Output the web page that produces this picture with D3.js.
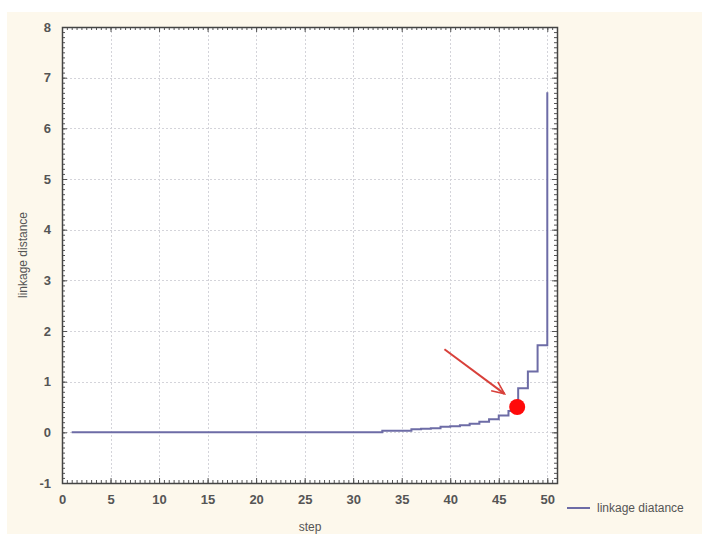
<!DOCTYPE html>
<html>
<head>
<meta charset="utf-8">
<script src="https://cdn.jsdelivr.net/npm/d3@7"></script>
<style>
    html, body { margin: 0; padding: 0; background: #ffffff; }
    svg { display: block; font-family: "Liberation Sans", Arial, sans-serif; }
</style>
</head>
<body>
<svg id="chart" width="702" height="534"></svg>
<script>

    /*=============== DATA ============*/

    var steps = d3.range(1, 51);

    var linkageDistance = [
        0, 0, 0, 0, 0, 0, 0, 0, 0, 0,
        0, 0, 0, 0, 0, 0, 0, 0, 0, 0,
        0, 0, 0, 0, 0, 0, 0, 0, 0, 0,
        0, 0, 0.03, 0.03, 0.03, 0.06, 0.07, 0.08, 0.11, 0.12,
        0.14, 0.17, 0.21, 0.26, 0.33, 0.42, 0.87, 1.2, 1.72, 6.71
    ];

    var xTicks = [0, 5, 10, 15, 20, 25, 30, 35, 40, 45, 50];
    var yTicks = [-1, 0, 1, 2, 3, 4, 5, 6, 7, 8];

    var markedPoint = [47, 0.5];
    var arrowFrom = [39.4, 1.64];
    var arrowTo = [45.6, 0.76];

    var seriesName = 'linkage diatance';
    var xTitle = 'step';
    var yTitle = 'linkage distance';


    /*=============== LAYOUT ============*/

    // note: "top" is a reserved window property, so plot edges get a prefix
    var plotLeft = 62, plotRight = 557, plotTop = 27, plotBottom = 483;
    var lineColor = '#6d6ca6';
    var textColor = '#555555';
    var arrowColor = '#d8403a';

    var svg = d3.select('#chart');

    // cream backdrop of the original screenshot
    svg.append('rect')
        .attr('x', 7).attr('y', 12)
        .attr('width', 702 - 7).attr('height', 534 - 12)
        .attr('fill', '#fdf8ec');

    var x = d3.scaleLinear().domain([0, 51]).range([plotLeft, plotRight]);
    var y = d3.scaleLinear().domain([-1, 8]).range([plotBottom, plotTop]);

    svg.append('rect')
        .attr('x', plotLeft).attr('y', plotTop)
        .attr('width', plotRight - plotLeft).attr('height', plotBottom - plotTop)
        .attr('fill', '#ffffff');


    /*=============== GRID ============*/

    var grid = svg.append('g').attr('class', 'grid')
        .attr('stroke', '#d4d4da')
        .attr('stroke-width', 1)
        .attr('stroke-dasharray', '2,2');

    grid.selectAll('line.v')
        .data(xTicks.filter(function (d) { return d > 0; }))
        .enter().append('line')
            .attr('class', 'v')
            .attr('x1', function (d) { return Math.round(x(d)) + 0.5; })
            .attr('x2', function (d) { return Math.round(x(d)) + 0.5; })
            .attr('y1', plotTop).attr('y2', plotBottom);

    grid.selectAll('line.h')
        .data(yTicks.filter(function (d) { return d > -1 && d < 8; }))
        .enter().append('line')
            .attr('class', 'h')
            .attr('y1', function (d) { return Math.round(y(d)) + 0.5; })
            .attr('y2', function (d) { return Math.round(y(d)) + 0.5; })
            .attr('x1', plotLeft).attr('x2', plotRight);


    /*=============== AXES ============*/

    var tickStyle = function (g) {
        g.select('.domain').remove();
        g.selectAll('.tick line').attr('stroke', '#555555');
    };

    var xMinor = d3.range(0, 51.01, 0.5);
    var yMinor = d3.range(-1, 8.001, 0.1);

    // minor ticks, inside on all four sides
    svg.append('g').attr('transform', 'translate(0,' + plotBottom + ')')
        .call(d3.axisBottom(x).tickValues(xMinor).tickSize(-3).tickFormat(''))
        .call(tickStyle);
    svg.append('g').attr('transform', 'translate(0,' + plotTop + ')')
        .call(d3.axisTop(x).tickValues(xMinor).tickSize(-3).tickFormat(''))
        .call(tickStyle);
    svg.append('g').attr('transform', 'translate(' + plotLeft + ',0)')
        .call(d3.axisLeft(y).tickValues(yMinor).tickSize(-3).tickFormat(''))
        .call(tickStyle);
    svg.append('g').attr('transform', 'translate(' + plotRight + ',0)')
        .call(d3.axisRight(y).tickValues(yMinor).tickSize(-3).tickFormat(''))
        .call(tickStyle);

    // major ticks with labels (plain hyphen for negatives, as in the original)
    var xAxis = svg.append('g').attr('transform', 'translate(0,' + plotBottom + ')')
        .call(d3.axisBottom(x).tickValues(xTicks).tickSize(-5).tickPadding(12).tickFormat(String))
        .call(tickStyle);
    var yAxis = svg.append('g').attr('transform', 'translate(' + plotLeft + ',0)')
        .call(d3.axisLeft(y).tickValues(yTicks).tickSize(-5).tickPadding(11).tickFormat(String))
        .call(tickStyle);
    svg.append('g').attr('transform', 'translate(0,' + plotTop + ')')
        .call(d3.axisTop(x).tickValues(xTicks).tickSize(-5).tickFormat(''))
        .call(tickStyle);
    svg.append('g').attr('transform', 'translate(' + plotRight + ',0)')
        .call(d3.axisRight(y).tickValues(yTicks).tickSize(-5).tickFormat(''))
        .call(tickStyle);

    [xAxis, yAxis].forEach(function (g) {
        g.selectAll('.tick text')
            .attr('fill', textColor)
            .attr('font-size', '13px')
            .attr('font-weight', 'bold')
            .attr('font-family', '"Liberation Sans", Arial, sans-serif');
    });

    svg.append('rect')
        .attr('x', plotLeft + 0.5).attr('y', plotTop + 0.5)
        .attr('width', plotRight - plotLeft).attr('height', plotBottom - plotTop)
        .attr('fill', 'none')
        .attr('stroke', '#444444')
        .attr('stroke-width', 1.5);


    /*=============== SERIES ============*/

    var points = steps.map(function (s, i) {
        return [s, linkageDistance[i]];
    });

    var line = d3.line()
        .x(function (d) { return x(d[0]); })
        .y(function (d) { return y(d[1]); })
        .curve(d3.curveStepAfter);

    svg.append('path')
        .datum(points)
        .attr('d', line)
        .attr('fill', 'none')
        .attr('stroke', lineColor)
        .attr('stroke-width', 2);


    /*=============== ANNOTATION ============*/

    svg.append('defs').append('marker')
        .attr('id', 'arrowhead')
        .attr('viewBox', '0 0 10 10')
        .attr('refX', 9).attr('refY', 5)
        .attr('markerWidth', 7).attr('markerHeight', 7)
        .attr('markerUnits', 'strokeWidth')
        .attr('orient', 'auto')
        .append('path')
            .attr('d', 'M0,1 L9,5 L0,9')
            .attr('fill', 'none')
            .attr('stroke', arrowColor)
            .attr('stroke-width', 1.1);

    svg.append('line')
        .attr('x1', x(arrowFrom[0])).attr('y1', y(arrowFrom[1]))
        .attr('x2', x(arrowTo[0])).attr('y2', y(arrowTo[1]))
        .attr('stroke', arrowColor)
        .attr('stroke-width', 2)
        .attr('marker-end', 'url(#arrowhead)');

    svg.append('circle')
        .attr('cx', x(markedPoint[0]) - 1)
        .attr('cy', y(markedPoint[1]))
        .attr('r', 8)
        .attr('fill', '#ff0a0a');


    /*=============== TITLES AND LEGEND ============*/

    svg.append('text')
        .attr('x', 310).attr('y', 531)
        .attr('text-anchor', 'middle')
        .attr('font-size', '12px')
        .attr('fill', textColor)
        .text(xTitle);

    svg.append('text')
        .attr('transform', 'translate(27,' + ((plotTop + plotBottom) / 2) + ') rotate(-90)')
        .attr('text-anchor', 'middle')
        .attr('font-size', '12px')
        .attr('fill', textColor)
        .text(yTitle);

    var legend = svg.append('g').attr('transform', 'translate(567,508)');

    legend.append('line')
        .attr('x1', 0).attr('x2', 23)
        .attr('stroke', lineColor)
        .attr('stroke-width', 2);

    legend.append('text')
        .attr('x', 30).attr('y', 4)
        .attr('font-size', '12px')
        .attr('fill', textColor)
        .text(seriesName);

</script>
</body>
</html>
